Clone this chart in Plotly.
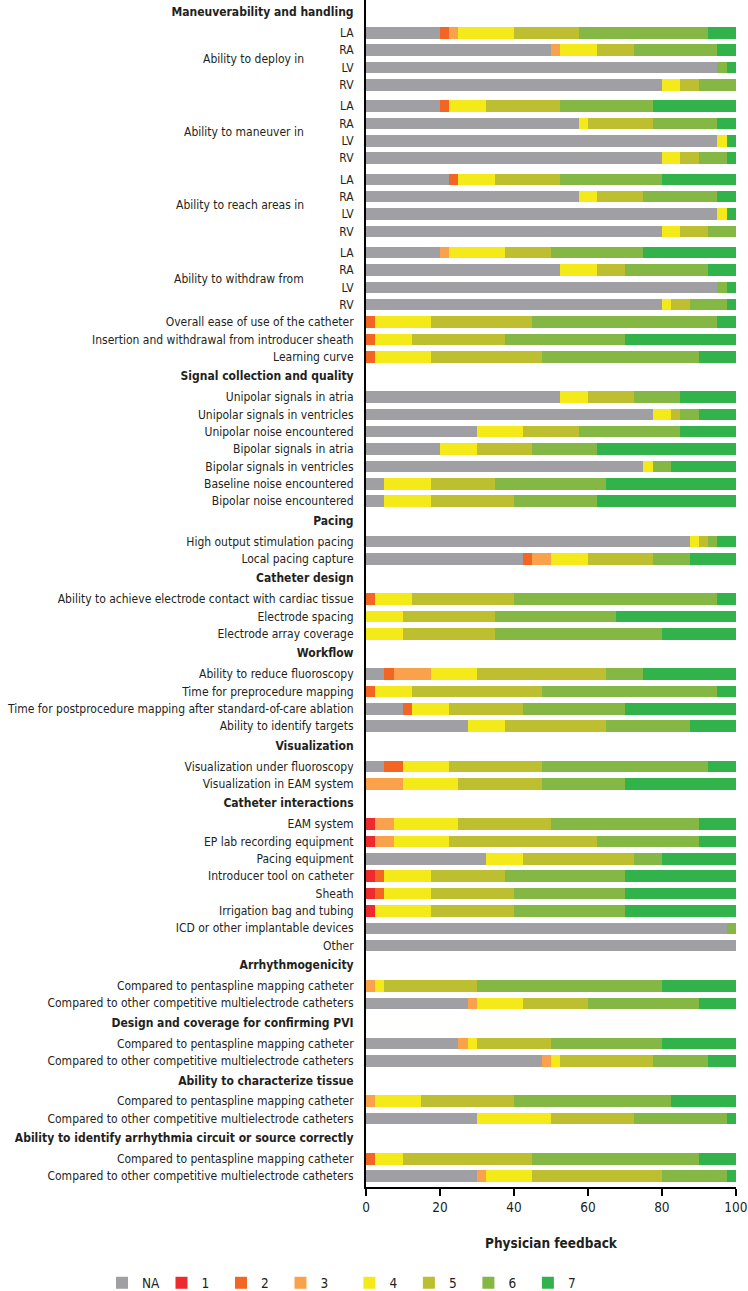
import plotly.graph_objects as go

SECTION_TITLES = [
    "Maneuverability and handling",
    "Signal collection and quality",
    "Pacing",
    "Catheter design",
    "Workflow",
    "Visualization",
    "Catheter interactions",
    "Arrhythmogenicity",
    "Design and coverage for confirming PVI",
    "Ability to characterize tissue",
    "Ability to identify arrhythmia circuit or source correctly",
]
SECTION_SIZES = [19, 7, 2, 3, 4, 2, 8, 2, 2, 2, 2]

CHAMBER_GROUPS = ["Ability to deploy in", "Ability to maneuver in",
                  "Ability to reach areas in", "Ability to withdraw from"]
CHAMBERS = ["LA", "RA", "LV", "RV"]
OTHER_LABELS = [
    "Overall ease of use of the catheter",
    "Insertion and withdrawal from introducer sheath",
    "Learning curve",
    "Unipolar signals in atria",
    "Unipolar signals in ventricles",
    "Unipolar noise encountered",
    "Bipolar signals in atria",
    "Bipolar signals in ventricles",
    "Baseline noise encountered",
    "Bipolar noise encountered",
    "High output stimulation pacing",
    "Local pacing capture",
    "Ability to achieve electrode contact with cardiac tissue",
    "Electrode spacing",
    "Electrode array coverage",
    "Ability to reduce fluoroscopy",
    "Time for preprocedure mapping",
    "Time for postprocedure mapping after standard-of-care ablation",
    "Ability to identify targets",
    "Visualization under fluoroscopy",
    "Visualization in EAM system",
    "EAM system",
    "EP lab recording equipment",
    "Pacing equipment",
    "Introducer tool on catheter",
    "Sheath",
    "Irrigation bag and tubing",
    "ICD or other implantable devices",
    "Other",
    "Compared to pentaspline mapping catheter",
    "Compared to other competitive multielectrode catheters",
    "Compared to pentaspline mapping catheter",
    "Compared to other competitive multielectrode catheters",
    "Compared to pentaspline mapping catheter",
    "Compared to other competitive multielectrode catheters",
    "Compared to pentaspline mapping catheter",
    "Compared to other competitive multielectrode catheters",
]
ROW_LABELS = CHAMBERS * 4 + OTHER_LABELS

SERIES_NAMES = ["NA", "1", "2", "3", "4", "5", "6", "7"]
NA = [20, 50, 95, 80, 20, 57.5, 95, 80, 22.5, 57.5, 95, 80, 20, 52.5, 95, 80,
      0, 0, 0,
      52.5, 77.5, 30, 20, 75, 5, 5,
      87.5, 42.5,
      0, 0, 0,
      5, 0, 10, 27.5,
      5, 0,
      0, 0, 32.5, 0, 0, 0, 97.5, 100,
      0, 27.5, 25, 47.5, 0, 30, 0, 30]
R1 = [0, 0, 0, 0, 0, 0, 0, 0, 0, 0, 0, 0, 0, 0, 0, 0,
      0, 0, 0,
      0, 0, 0, 0, 0, 0, 0,
      0, 0,
      0, 0, 0,
      0, 0, 0, 0,
      0, 0,
      2.5, 2.5, 0, 2.5, 2.5, 2.5, 0, 0,
      0, 0, 0, 0, 0, 0, 0, 0]
R2 = [2.5, 0, 0, 0, 2.5, 0, 0, 0, 2.5, 0, 0, 0, 0, 0, 0, 0,
      2.5, 2.5, 2.5,
      0, 0, 0, 0, 0, 0, 0,
      0, 2.5,
      2.5, 0, 0,
      2.5, 2.5, 2.5, 0,
      5, 0,
      0, 0, 0, 2.5, 2.5, 0, 0, 0,
      0, 0, 0, 0, 0, 0, 2.5, 0]
R3 = [2.5, 2.5, 0, 0, 0, 0, 0, 0, 0, 0, 0, 0, 2.5, 0, 0, 0,
      0, 0, 0,
      0, 0, 0, 0, 0, 0, 0,
      0, 5,
      0, 0, 0,
      10, 0, 0, 0,
      0, 10,
      5, 5, 0, 0, 0, 0, 0, 0,
      2.5, 2.5, 2.5, 2.5, 2.5, 0, 0, 2.5]
R4 = [15, 10, 0, 5, 10, 2.5, 2.5, 5, 10, 5, 2.5, 5, 15, 10, 0, 2.5,
      15, 10, 15,
      7.5, 5, 12.5, 10, 2.5, 12.5, 12.5,
      2.5, 10,
      10, 10, 10,
      12.5, 10, 10, 10,
      12.5, 15,
      17.5, 15, 10, 12.5, 12.5, 15, 0, 0,
      2.5, 12.5, 2.5, 2.5, 12.5, 20, 7.5, 12.5]
R5 = [17.5, 10, 0, 5, 20, 17.5, 0, 5, 17.5, 12.5, 0, 7.5, 12.5, 7.5, 0, 5,
      27.5, 25, 30,
      12.5, 2.5, 15, 15, 0, 17.5, 22.5,
      2.5, 17.5,
      27.5, 25, 25,
      35, 35, 20, 27.5,
      25, 22.5,
      25, 40, 30, 20, 22.5, 22.5, 0, 0,
      25, 17.5, 20, 25, 25, 22.5, 35, 35]
R6 = [35, 22.5, 2.5, 10, 25, 17.5, 0, 7.5, 27.5, 20, 0, 7.5, 25, 22.5, 2.5, 10,
      50, 32.5, 42.5,
      12.5, 5, 27.5, 17.5, 5, 30, 22.5,
      2.5, 10,
      55, 32.5, 45,
      10, 47.5, 27.5, 22.5,
      45, 22.5,
      40, 27.5, 7.5, 32.5, 30, 30, 2.5, 0,
      50, 30, 30, 15, 42.5, 25, 45, 17.5]
R7 = [7.5, 5, 2.5, 0, 22.5, 5, 2.5, 2.5, 20, 5, 2.5, 0, 25, 7.5, 2.5, 2.5,
      5, 30, 10,
      15, 10, 15, 37.5, 17.5, 35, 37.5,
      5, 12.5,
      5, 32.5, 20,
      25, 5, 30, 12.5,
      7.5, 30,
      10, 10, 20, 30, 30, 30, 0, 0,
      20, 10, 20, 7.5, 17.5, 2.5, 10, 2.5]
SERIES_VALUES = [NA, R1, R2, R3, R4, R5, R6, R7]
COLORS = ["#A09FA4", "#ED2A2E", "#F26522", "#F9A24B", "#F4E919", "#BEBF30", "#84B743", "#31B24B"]

TEXT = "#231F20"
FONT = "DejaVu Sans Condensed, Liberation Sans Narrow, Arial Narrow, sans-serif"

# ---- vertical layout (row units) ----
HEADER_TO_ROW = 1.2
ROW_TO_HEADER = 1.12
BLOCK_GAP = 1.22
positions, header_pos = [], []
pos = 0.0
for s, size in enumerate(SECTION_SIZES):
    if s > 0:
        pos += ROW_TO_HEADER
    header_pos.append(pos)
    pos += HEADER_TO_ROW
    for k in range(size):
        if k > 0:
            pos += BLOCK_GAP if (s == 0 and k in (4, 8, 12)) else 1.0
        positions.append(pos)

H, PLOT_H = 1291, 1187
PITCH = 17.36
y_top = -12 / PITCH
y_bot = y_top + PLOT_H / PITCH

fig = go.Figure()
for i, (name, vals, col) in enumerate(zip(SERIES_NAMES, SERIES_VALUES, COLORS)):
    fig.add_trace(go.Bar(
        x=vals, y=positions, orientation="h", name=name, width=0.66,
        marker=dict(color=col, line=dict(width=0)),
        legend="legend" if i < 4 else "legend2",
    ))

tickvals = header_pos + positions
ticktext = [f"<b>{t}</b>" for t in SECTION_TITLES] + ROW_LABELS

annotations = []
for g, label in enumerate(CHAMBER_GROUPS):
    ys = positions[g * 4:(g + 1) * 4]
    annotations.append(dict(
        text=label, x=0, xref="paper", xanchor="right", xshift=-60,
        y=sum(ys) / 4, yref="y", yanchor="middle", showarrow=False,
        font=dict(size=12, color=TEXT, family=FONT),
    ))

LEG1_X = 102
LEG2_X = 349.4
legend_common = dict(
    orientation="h", xref="container", yref="container",
    xanchor="left", y=8 / H, yanchor="middle",
    entrywidth=14.5, entrywidthmode="pixels", traceorder="normal",
    font=dict(size=13.5, color=TEXT, family=FONT),
    bgcolor="rgba(0,0,0,0)",
)

fig.update_layout(
    width=748, height=H,
    margin=dict(l=366, r=12, t=0, b=H - PLOT_H),
    barmode="stack", bargap=0,
    paper_bgcolor="white", plot_bgcolor="white",
    font=dict(family=FONT, size=12, color=TEXT),
    annotations=annotations,
    showlegend=True,
    legend=dict(x=LEG1_X / 748, **legend_common),
    legend2=dict(x=LEG2_X / 748, **legend_common),
    xaxis=dict(
        range=[0, 100.05], tickvals=[0, 20, 40, 60, 80, 100],
        showgrid=False, zeroline=False, showline=True, linecolor="black", linewidth=2,
        ticks="outside", ticklen=7, tickwidth=1.5, tickcolor="black",
        tickfont=dict(size=13.5, color=TEXT),
        title=dict(text="<b>Physician feedback</b>", standoff=24, font=dict(size=13.5, color=TEXT)),
        automargin=False,
    ),
    yaxis=dict(
        range=[y_bot, y_top], tickvals=tickvals, ticktext=ticktext,
        showgrid=False, zeroline=False, showline=True, linecolor="black", linewidth=2,
        ticks="", ticklabelstandoff=8, tickfont=dict(size=12, color=TEXT),
        automargin=False,
    ),
)

fig.write_html("out.html")
